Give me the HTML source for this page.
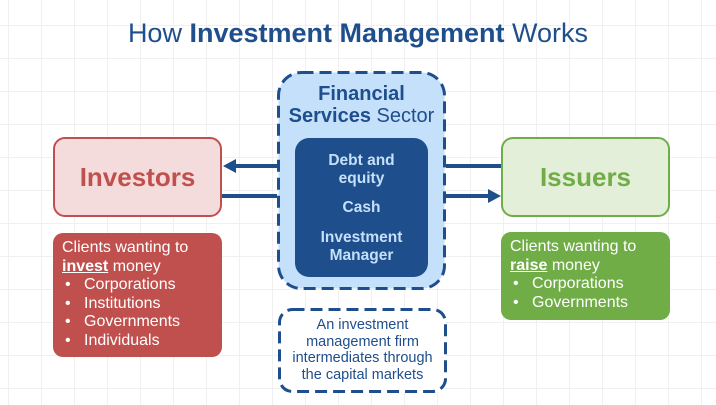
<!DOCTYPE html>
<html><head><style>
body{margin:0;width:716px;height:405px;overflow:hidden;background:#fff;font-family:"Liberation Sans","DejaVu Sans",sans-serif;position:relative;
background-image:linear-gradient(#f0f0f0 1px,transparent 1px),linear-gradient(90deg,#f0f0f0 1px,transparent 1px);background-size:33px 33px;background-position:8px 25px;}
.a{position:absolute;box-sizing:border-box}
.t{position:absolute;left:0;width:716px;top:18px;text-align:center;font-size:27px;color:#1f4e8c}
ul{margin:0;padding:0;list-style:none}
li{position:relative;padding-left:22px}
li:before{content:"•";position:absolute;left:3px}
</style></head><body>
<div class="t">How <b>Investment Management</b> Works</div>
<div class="a" style="left:53px;top:137px;width:169px;height:80px;background:#f4dcdc;border:2px solid #c0504d;border-radius:12px;color:#c0504d;font-weight:bold;font-size:26px;text-align:center;line-height:76px">Investors</div>
<div class="a" style="left:53px;top:233px;width:169px;height:124px;background:#c0504d;border-radius:10px;color:#fff;font-size:16px;line-height:18.5px;padding:6px 0 0 9px">Clients wanting to<br><b><u>invest</u></b> money<ul><li>Corporations</li><li>Institutions</li><li>Governments</li><li>Individuals</li></ul></div>
<svg class="a" style="left:0;top:0" width="716" height="405">
<rect x="278.5" y="72.5" width="166" height="216" rx="23" fill="#c5e0fa" stroke="#1f4e8c" stroke-width="3" stroke-dasharray="12 6"/>
<rect x="279.5" y="309.5" width="166" height="82" rx="13" fill="#fff" stroke="#1f4e8c" stroke-width="3" stroke-dasharray="12 6"/>
</svg>
<div class="a" style="left:277px;top:71px;width:169px;height:219px;color:#1f4e8c;text-align:center;font-size:20px;line-height:22px;padding-top:12px"><b>Financial</b><br><b>Services</b> Sector</div>
<div class="a" style="left:295px;top:138px;width:133px;height:139px;background:#1f4e8c;border-radius:14px;color:#c5e0fa;font-weight:bold;text-align:center;font-size:15.5px;line-height:18px;padding-top:14px">Debt and<br>equity<div style="margin-top:11px">Cash</div><div style="margin-top:12px">Investment<br>Manager</div></div>
<svg class="a" style="left:0;top:0" width="716" height="405">
<g stroke="#1f4e8c" stroke-width="4" fill="#1f4e8c">
<line x1="277" y1="166" x2="234" y2="166"/><polygon points="223,166 236,159 236,173" stroke="none"/>
<line x1="222" y1="196" x2="277" y2="196"/>
<line x1="446" y1="166" x2="501" y2="166"/>
<line x1="446" y1="196" x2="490" y2="196"/><polygon points="501,196 488,189 488,203" stroke="none"/>
</g></svg>
<div class="a" style="left:501px;top:137px;width:169px;height:80px;background:#e3efd9;border:2px solid #70ad47;border-radius:12px;color:#70ad47;font-weight:bold;font-size:26px;text-align:center;line-height:76px">Issuers</div>
<div class="a" style="left:501px;top:232px;width:169px;height:88px;background:#70ad47;border-radius:10px;color:#fff;font-size:16px;line-height:18.5px;padding:6px 0 0 9px">Clients wanting to<br><b><u>raise</u></b> money<ul><li>Corporations</li><li>Governments</li></ul></div>
<div class="a" style="left:278px;top:308px;width:169px;height:85px;color:#1f4e8c;text-align:center;font-size:14.5px;line-height:16.5px;padding-top:9px">An investment<br>management firm<br>intermediates through<br>the capital markets</div>
</body></html>
